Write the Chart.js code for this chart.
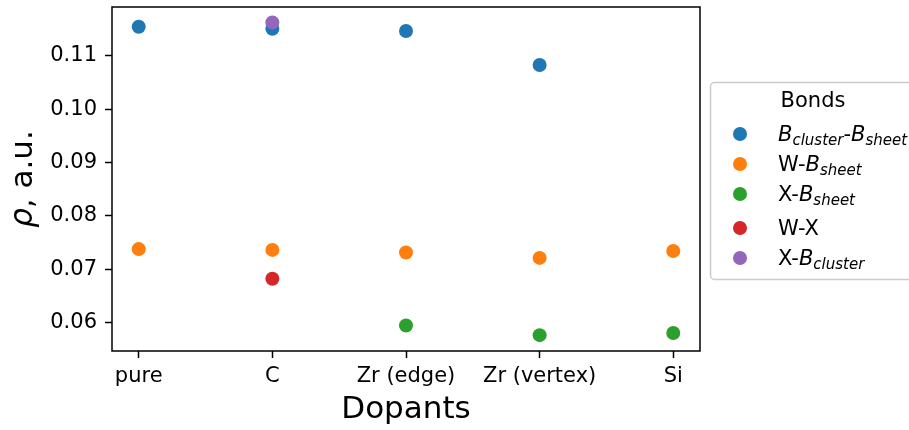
<!DOCTYPE html>
<html>
<head>
<meta charset="utf-8">
<script src="https://cdn.jsdelivr.net/npm/chart.js@4.4.1/dist/chart.umd.min.js"></script>
<style>
  body { margin: 0; background: #fff; }
  #wrap { width: 909px; height: 430px; }
</style>
</head>
<body>
<div id="wrap"><canvas id="c" width="909" height="430"></canvas></div>
<script>
// category axis (dopants)
const dopants = ['pure', 'C', 'Zr (edge)', 'Zr (vertex)', 'Si'];
const yTicks = [0.06, 0.07, 0.08, 0.09, 0.10, 0.11];

// bond densities per dopant, null where the bond does not exist
const bClusterBSheet = [0.1155, 0.1151, 0.1147, 0.1083, null];
const wBSheet        = [0.07375, 0.0736, 0.0731, 0.0721, 0.0734];
const xBSheet        = [null, null, 0.0594, 0.0576, 0.0580];
const wX             = [null, 0.0682, null, null, null];
const xBCluster      = [null, 0.1163, null, null, null];

const colors = ['#1f77b4', '#ff7f0e', '#2ca02c', '#d62728', '#9467bd'];
const seriesValues = [bClusterBSheet, wBSheet, xBSheet, wX, xBCluster];

// legend labels as rich text pieces (i = italic, s = subscript)
const legendLabels = [
  [{t: 'B', i: 1}, {t: 'cluster', i: 1, s: 1}, {t: '-'}, {t: 'B', i: 1}, {t: 'sheet', i: 1, s: 1}],
  [{t: 'W-'}, {t: 'B', i: 1}, {t: 'sheet', i: 1, s: 1}],
  [{t: 'X-'}, {t: 'B', i: 1}, {t: 'sheet', i: 1, s: 1}],
  [{t: 'W-X'}],
  [{t: 'X-'}, {t: 'B', i: 1}, {t: 'cluster', i: 1, s: 1}]
];

const FONT = '"DejaVu Sans", sans-serif';

function toPoints(vals) {
  const pts = [];
  vals.forEach((v, i) => { if (v !== null) pts.push({x: i, y: v}); });
  return pts;
}

function drawRich(ctx, parts, x, y) {
  ctx.textAlign = 'left';
  ctx.textBaseline = 'alphabetic';
  parts.forEach(p => {
    ctx.font = (p.i ? 'italic ' : '') + (p.s ? 15 : 21) + 'px ' + FONT;
    ctx.fillText(p.t, x, y + (p.s ? 4 : 0));
    x += ctx.measureText(p.t).width;
  });
}

const extras = {
  id: 'extras',
  afterDraw(chart) {
    const ctx = chart.ctx;
    const a = chart.chartArea;
    ctx.save();
    // frame
    ctx.strokeStyle = '#000';
    ctx.lineWidth = 1.5;
    ctx.strokeRect(a.left, a.top, a.right - a.left, a.bottom - a.top);

    // x title
    ctx.fillStyle = '#000';
    ctx.font = '31px ' + FONT;
    ctx.textAlign = 'center';
    ctx.textBaseline = 'alphabetic';
    ctx.fillText('Dopants', (a.left + a.right) / 2, 418);

    // y title: italic rho + regular text, rotated
    ctx.save();
    ctx.translate(32, (a.top + a.bottom) / 2);
    ctx.rotate(-Math.PI / 2);
    ctx.font = 'italic 31px ' + FONT;
    const w1 = ctx.measureText('ρ').width;
    ctx.font = '31px ' + FONT;
    const w2 = ctx.measureText(', a.u.').width;
    let x = -(w1 + w2) / 2;
    ctx.textAlign = 'left';
    ctx.font = 'italic 31px ' + FONT;
    ctx.fillText('ρ', x, 0);
    ctx.font = '31px ' + FONT;
    ctx.fillText(', a.u.', x + w1, 0);
    ctx.restore();

    // legend
    ctx.fillStyle = 'rgba(255,255,255,0.8)';
    ctx.strokeStyle = '#cccccc';
    ctx.lineWidth = 1.5;
    ctx.beginPath();
    ctx.roundRect(710.5, 82.5, 210, 197, 4);
    ctx.fill();
    ctx.stroke();
    ctx.fillStyle = '#000';
    ctx.font = '21px ' + FONT;
    ctx.textAlign = 'center';
    ctx.fillText('Bonds', 813, 107);
    const rowY = [134, 164, 194, 228, 258];
    legendLabels.forEach((parts, k) => {
      ctx.fillStyle = colors[k];
      ctx.beginPath();
      ctx.arc(740, rowY[k], 7, 0, Math.PI * 2);
      ctx.fill();
      ctx.fillStyle = '#000';
      drawRich(ctx, parts, 778, rowY[k] + 7);
    });
    ctx.restore();
  }
};

new Chart(document.getElementById('c'), {
  type: 'scatter',
  data: {
    datasets: seriesValues.map((vals, k) => ({
      data: toPoints(vals),
      backgroundColor: colors[k],
      borderWidth: 0,
      pointRadius: 7,
      pointHoverRadius: 7,
      order: 5 - k
    }))
  },
  options: {
    responsive: false,
    devicePixelRatio: 1,
    animation: false,
    layout: { padding: { top: 7, right: 209, left: 0, bottom: 0 } },
    plugins: { legend: { display: false }, tooltip: { enabled: false } },
    scales: {
      x: {
        type: 'linear',
        min: -0.2,
        max: 4.2,
        afterBuildTicks: s => { s.ticks = dopants.map((_, i) => ({value: i})); },
        afterFit: s => { s.height = 79; s.paddingLeft = 0; s.paddingRight = 0; },
        ticks: {
          color: '#000',
          font: { family: FONT, size: 21 },
          padding: 6,
          maxRotation: 0,
          autoSkip: false,
          callback: v => dopants[v]
        },
        grid: { drawOnChartArea: false, tickLength: 7, tickWidth: 1.5, tickColor: '#000' },
        border: { display: false }
      },
      y: {
        min: 0.054625,
        max: 0.119195,
        afterBuildTicks: s => { s.ticks = yTicks.map(v => ({value: v})); },
        afterFit: s => { s.width = 112; s.paddingTop = 0; s.paddingBottom = 0; },
        ticks: {
          color: '#000',
          font: { family: FONT, size: 21 },
          padding: 8,
          callback: v => v.toFixed(2)
        },
        grid: { drawOnChartArea: false, tickLength: 7, tickWidth: 1.5, tickColor: '#000' },
        border: { display: false }
      }
    }
  },
  plugins: [extras]
});
</script>
</body>
</html>
